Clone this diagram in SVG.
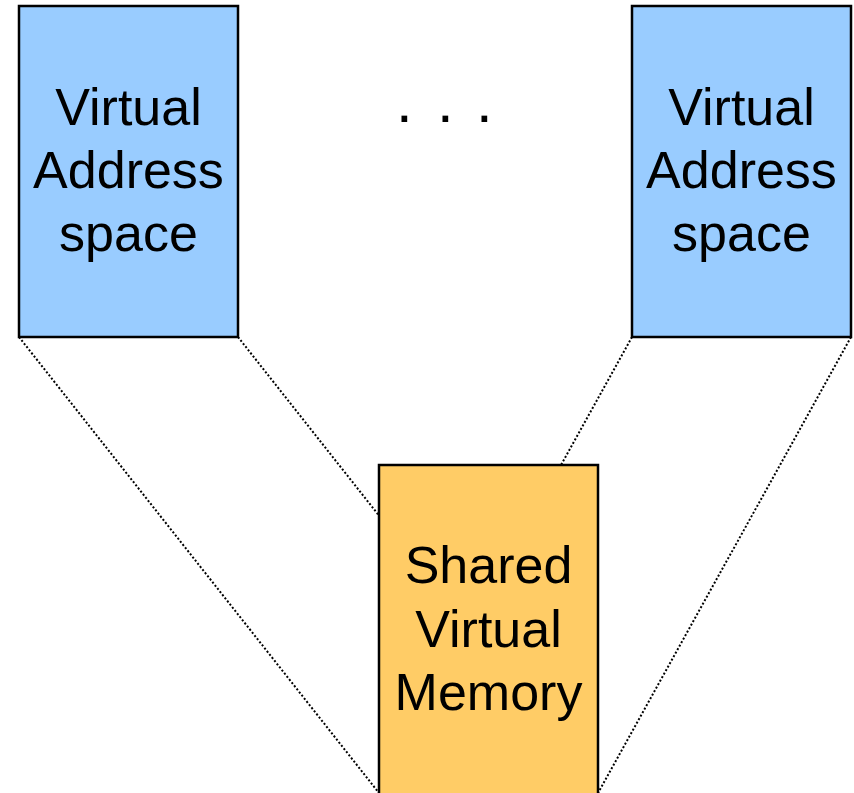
<svg xmlns="http://www.w3.org/2000/svg" width="854" height="793" viewBox="0 0 854 793">
<style>
.conn{stroke:#000;stroke-width:2;stroke-dasharray:2 2;fill:none}
.box{stroke:#000;stroke-width:2.5}
.blue{fill:#99CCFF}
.orange{fill:#FFCC66}
text{font-family:"Liberation Sans",Arial,sans-serif;font-size:52px;fill:#000;text-anchor:middle}
</style>
<rect width="854" height="793" fill="#fff"/>
<g id="connectors">
<line class="conn" x1="19" y1="337" x2="379" y2="793"/>
<line class="conn" x1="238" y1="337" x2="598" y2="793"/>
<line class="conn" x1="632" y1="337" x2="379" y2="793"/>
<line class="conn" x1="851" y1="337" x2="598" y2="793"/>
</g>
<g id="vas-left">
<rect class="box blue" x="19" y="6" width="219" height="331"/>
<text x="128.5" y="125">Virtual</text>
<text x="128.5" y="188">Address</text>
<text x="128.5" y="251">space</text>
</g>
<g id="ellipsis">
<text x="398 437 476" y="122" style="text-anchor:start;font-size:60px" dx="-2">...</text>
</g>
<g id="vas-right">
<rect class="box blue" x="632" y="6" width="219" height="331"/>
<text x="741.5" y="125">Virtual</text>
<text x="741.5" y="188">Address</text>
<text x="741.5" y="251">space</text>
</g>
<g id="shared">
<rect class="box orange" x="379" y="465" width="219" height="340"/>
<text x="488.5" y="583">Shared</text>
<text x="488.5" y="647">Virtual</text>
<text x="488.5" y="710">Memory</text>
</g>
</svg>
